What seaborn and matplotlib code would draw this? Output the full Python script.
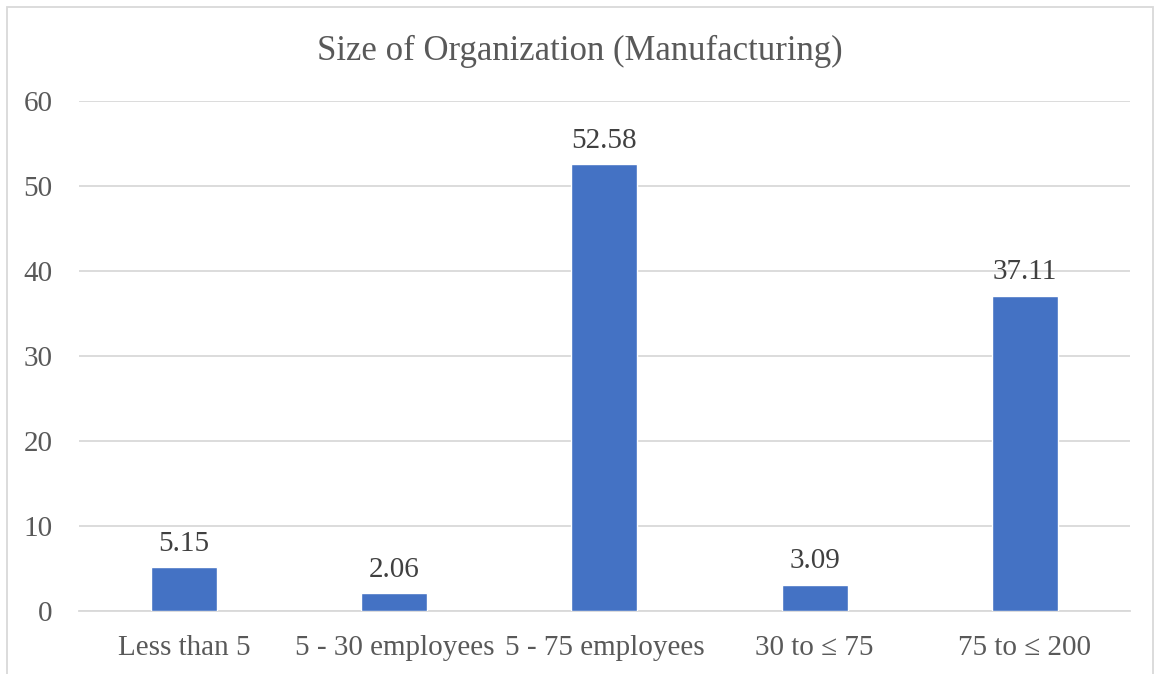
import matplotlib
matplotlib.use("Agg")
import matplotlib.pyplot as plt
import seaborn as sns
import pandas as pd
from matplotlib.patches import Rectangle

categories = ["Less than 5", "5 - 30 employees", "5 - 75 employees", "30 to \u2264 75", "75 to \u2264 200"]
values = [5.15, 2.06, 52.58, 3.09, 37.11]
y_ticks = [0, 10, 20, 30, 40, 50, 60]

sns.set_theme(style="white")
plt.rcParams["font.family"] = ["Liberation Serif", "DejaVu Serif"]

df = pd.DataFrame({"category": categories, "value": values})

fig = plt.figure(figsize=(11.6, 6.74), dpi=100)
ax = fig.add_axes([0.0681, 0.0935, 0.906, 0.7565])

sns.barplot(data=df, x="category", y="value", color="#4472C4", width=0.314,
            saturation=1, ax=ax, zorder=3)

ax.set_ylim(0, 60)
ax.set_yticks(y_ticks)
ax.set_xlim(-0.5, len(categories) - 0.5)
ax.grid(axis="y", color="#d9d9d9", linewidth=1.3, zorder=0)
for s in ["top", "right", "left"]:
    ax.spines[s].set_visible(False)
ax.spines["bottom"].set_color("#d9d9d9")
ax.spines["bottom"].set_linewidth(1.3)
ax.tick_params(axis="both", length=0, labelsize=21, labelcolor="#595959")
ax.tick_params(axis="x", pad=17)
ax.tick_params(axis="y", pad=19)
ax.set_xlabel("")
ax.set_ylabel("")

for i, v in enumerate(values):
    ax.annotate(f"{v:.2f}", (i, v), xytext=(0, 7.5), textcoords="offset points",
                ha="center", va="bottom", fontsize=21, color="#404040")

fig.text(0.5, 0.924, "Size of Organization (Manufacturing)", ha="center", va="center",
         fontsize=25, color="#595959")

fig.patches.append(Rectangle((0.006, -0.1), 0.988, 1.09, transform=fig.transFigure,
                             fill=False, edgecolor="#d9d9d9", linewidth=1.3))

fig.savefig("out.png", dpi=100)
